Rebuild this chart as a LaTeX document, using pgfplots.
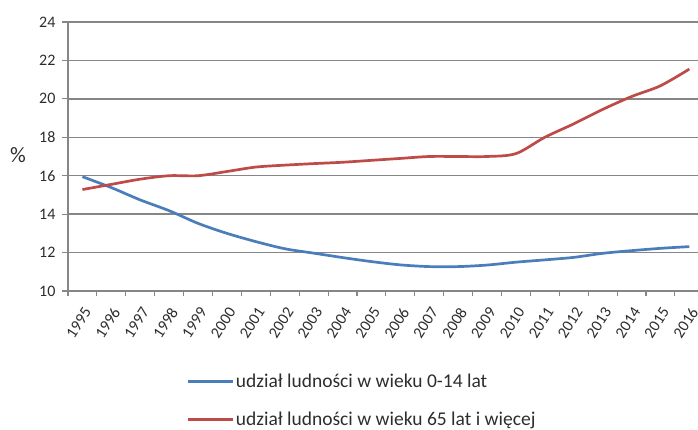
\documentclass[border=0pt]{standalone}
\usepackage{pgfplots}
\pgfplotsset{compat=1.18}
\usepackage{fontspec}
\setmainfont{Carlito}
\definecolor{sblue}{RGB}{74,126,187}
\definecolor{sred}{RGB}{190,75,72}
\definecolor{gridg}{RGB}{134,134,134}
\definecolor{txt}{RGB}{45,45,45}
\begin{document}
\begin{tikzpicture}
\useasboundingbox (-68pt,-139pt) rectangle (630pt,291pt);
\begin{axis}[
  at={(0pt,0pt)}, anchor=south west,
  scale only axis, width=630pt, height=269pt,
  xmin=-0.5, xmax=21.3, ymin=10, ymax=24,
  axis x line=bottom, axis y line=left,
  axis line style={-, draw=gridg, line width=1.3pt},
  ytick={10,12,...,24},
  xtick={0,...,21},
  xticklabels={1995,1996,1997,1998,1999,2000,2001,2002,2003,2004,2005,2006,2007,2008,2009,2010,2011,2012,2013,2014,2015,2016},
  minor xtick={-0.5,0.5,...,21.5},
  tick align=outside,
  major tick length=6pt,
  minor tick length=5pt,
  x tick style={draw=none},
  minor x tick style={draw=gridg, line width=1.1pt},
  y tick style={draw=gridg, line width=1.1pt},
  ymajorgrids, grid style={draw=gridg, line width=1.3pt},
  /pgf/number format/assume math mode=true,
  tick label style={font=\fontsize{16}{18}\selectfont, text=txt},
  yticklabel style={xshift=-3pt},
  xticklabel style={rotate=57, anchor=east, yshift=-11pt, xshift=-4pt},
  ylabel={\%},
  every axis y label/.style={at={(-50pt,136pt)}, anchor=center, font=\fontsize{22}{24}\selectfont, text=txt},
  clip=false,
  legend style={draw=none, fill=none, at={(115pt,-79pt)}, anchor=north west,
    font=\fontsize{19.5}{22}\selectfont, text=txt, row sep=19pt,
    /tikz/every even column/.append style={column sep=3pt}},
  legend cell align=left,
  legend image code/.code={\draw[#1, sharp plot] (0pt,0pt) -- (45pt,0pt);},
]
\addplot[sblue, line width=2.7pt, smooth, tension=0.5] coordinates {
(0,15.95) (1,15.38) (2,14.74) (3,14.18) (4,13.52) (5,13.0) (6,12.57) (7,12.2) (8,11.97) (9,11.74) (10,11.53) (11,11.36) (12,11.27) (13,11.27) (14,11.35) (15,11.5) (16,11.62) (17,11.75) (18,11.96) (19,12.1) (20,12.22) (21,12.31)};
\addlegendentry{udział ludności w wieku 0-14 lat}
\addplot[sred, line width=2.7pt, smooth, tension=0.5] coordinates {
(0,15.28) (1,15.55) (2,15.82) (3,16.0) (4,16.0) (5,16.22) (6,16.45) (7,16.55) (8,16.63) (9,16.7) (10,16.8) (11,16.9) (12,17.0) (13,17.0) (14,17.0) (15,17.15) (16,18.0) (17,18.7) (18,19.45) (19,20.12) (20,20.68) (21,21.55)};
\addlegendentry{udział ludności w wieku 65 lat i więcej}
\end{axis}
\end{tikzpicture}
\end{document}
